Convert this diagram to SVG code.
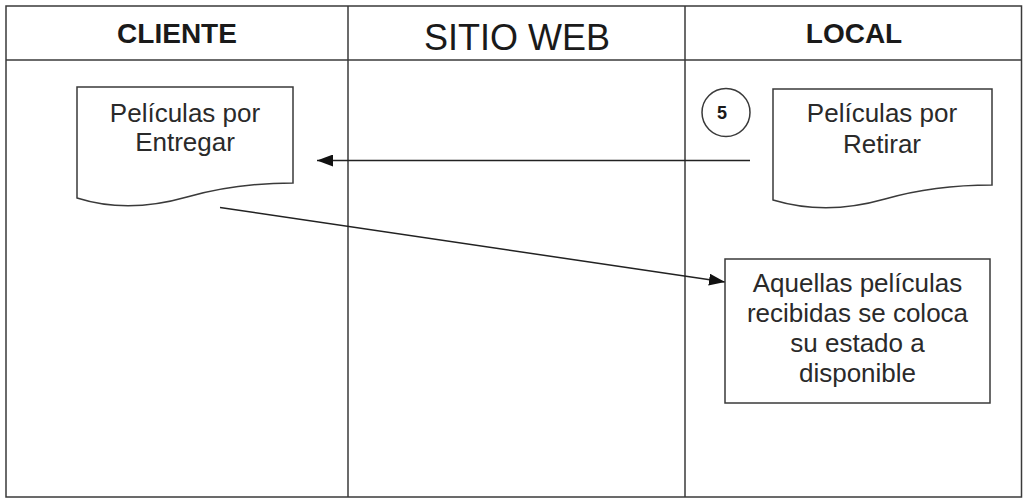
<svg xmlns="http://www.w3.org/2000/svg" width="1025" height="500" viewBox="0 0 1025 500">
  <style>
    .frame { fill: none; stroke: #3a3a3a; stroke-width: 1.5; }
    .shape { fill: #ffffff; stroke: #3a3a3a; stroke-width: 1.5; }
    .edge { fill: none; stroke: #222222; stroke-width: 1.5; }
    .lane { font-family: "Liberation Sans", Arial, sans-serif; fill: #1a1a1a; text-anchor: middle; }
    .label { font-family: "Liberation Sans", Arial, sans-serif; font-size: 26px; fill: #2a2a2a; text-anchor: middle; }
  </style>
  <defs>
    <marker id="arrow" viewBox="0 0 16 12" refX="16" refY="6" markerWidth="16" markerHeight="12" markerUnits="userSpaceOnUse" orient="auto">
      <path d="M0,0 L16,6 L0,12 Z" fill="#111111"/>
    </marker>
  </defs>

  <rect width="1025" height="500" fill="#ffffff"/>

  <!-- swimlane frame -->
  <g id="lanes">
    <rect class="frame" x="6" y="6" width="1015.5" height="491"/>
    <line class="frame" x1="6" y1="60" x2="1021.5" y2="60"/>
    <line class="frame" x1="348" y1="6" x2="348" y2="497"/>
    <line class="frame" x1="685" y1="6" x2="685" y2="497"/>
    <text class="lane" x="177" y="43" font-size="28" font-weight="bold">CLIENTE</text>
    <text class="lane" x="517" y="50" font-size="36">SITIO WEB</text>
    <text class="lane" x="854" y="43" font-size="28" font-weight="bold">LOCAL</text>
  </g>

  <!-- connectors -->
  <g id="connectors">
    <line class="edge" x1="750" y1="160.5" x2="317" y2="160.5" marker-end="url(#arrow)"/>
    <line class="edge" x1="220" y1="207.5" x2="725" y2="282" marker-end="url(#arrow)"/>
  </g>

  <!-- document: Películas por Entregar -->
  <g id="doc-entregar">
    <path class="shape" d="M77,87 H293 V183 C260,183 222,187 187,197 C152,207 115,210 77,198 Z"/>
    <text class="label" x="185" y="122">Películas por</text>
    <text class="label" x="185" y="151">Entregar</text>
  </g>

  <!-- step marker 5 -->
  <g id="step-5">
    <circle class="shape" cx="726" cy="112.5" r="24"/>
    <text x="722" y="119" font-family="'Liberation Sans', Arial, sans-serif" font-size="18" font-weight="bold" fill="#1a1a1a" text-anchor="middle">5</text>
  </g>

  <!-- document: Películas por Retirar -->
  <g id="doc-retirar">
    <path class="shape" d="M773,89 H992 V185 C958,185 920,189 885,199 C850,209 813,212 773,200 Z"/>
    <text class="label" x="882" y="122">Películas por</text>
    <text class="label" x="882" y="153">Retirar</text>
  </g>

  <!-- process box -->
  <g id="proc-disponible">
    <rect class="shape" x="725" y="259" width="265" height="144"/>
    <text class="label" x="857.5" y="292">Aquellas películas</text>
    <text class="label" x="857.5" y="322">recibidas se coloca</text>
    <text class="label" x="857.5" y="352">su estado a</text>
    <text class="label" x="857.5" y="382">disponible</text>
  </g>
</svg>
